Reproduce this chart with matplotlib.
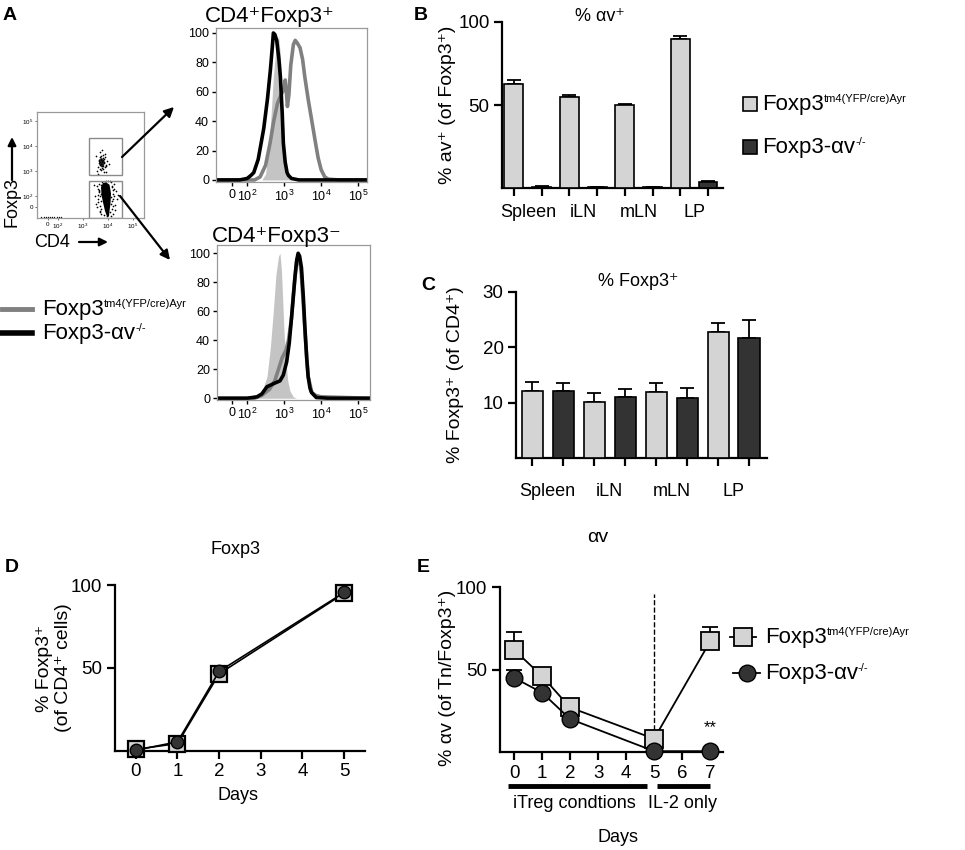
import matplotlib
matplotlib.use('Agg')
import matplotlib.pyplot as plt
from matplotlib.patches import Rectangle, Polygon
import numpy as np

plt.rcParams['font.family'] = ['Liberation Sans', 'DejaVu Sans']
plt.rcParams['mathtext.fontset'] = 'custom'
plt.rcParams['mathtext.rm'] = 'Liberation Sans'
plt.rcParams['mathtext.it'] = 'Liberation Sans:italic'
plt.rcParams['mathtext.bf'] = 'Liberation Sans:bold'
plt.rcParams['mathtext.default'] = 'regular'

# ---------------- data ----------------
# panel A: dot plot (log decades), read by eye
dot_hi_x = [3.62, 3.70, 3.78, 3.85, 3.74, 3.66, 3.80, 3.90, 3.72, 3.68, 3.76, 3.82, 3.58, 3.95, 3.70,
            3.79, 3.64, 3.87, 3.73, 3.77, 3.50, 4.05, 3.84, 3.69, 3.81, 3.75, 3.71, 3.83, 3.66, 3.78,
            3.60, 3.92, 3.74, 3.86, 3.55, 3.63, 3.89, 3.77, 3.68, 3.93]
dot_hi_y = [3.40, 3.30, 3.45, 3.35, 3.20, 3.55, 3.10, 3.25, 3.60, 3.38, 3.28, 3.50, 3.15, 3.42, 3.05,
            3.65, 3.32, 3.18, 3.48, 3.36, 3.60, 3.30, 2.95, 3.75, 3.22, 3.40, 3.44, 3.34, 3.26, 3.52,
            2.90, 2.98, 3.85, 3.70, 3.00, 3.45, 3.55, 3.12, 3.08, 3.20]
dot_lo_x = [3.55, 3.62, 3.68, 3.70, 3.66, 3.60, 3.58, 3.64, 3.69, 3.71, 4.15, 4.18, 4.20, 4.14, 4.22,
            4.16, 4.19, 4.25, 4.12, 4.17, 3.48, 3.52, 4.30, 4.35, 3.45, 4.40, 3.74, 4.08, 3.85, 3.95,
            3.67, 4.13, 3.63, 4.21, 3.90, 4.00, 3.57, 4.27, 3.73, 4.10, 3.65, 4.23, 3.61, 4.11, 3.70,
            4.18, 3.58, 4.28, 3.72, 4.15]
dot_lo_y = [2.40, 2.20, 2.00, 1.80, 1.60, 1.90, 2.30, 2.50, 1.40, 2.10, 2.40, 2.10, 1.90, 1.70, 2.30,
            1.50, 1.30, 2.00, 2.55, 1.80, 2.00, 1.70, 2.20, 1.90, 2.45, 2.05, 2.58, 2.60, 1.25, 1.22,
            1.35, 1.20, 2.15, 1.60, 2.62, 2.62, 1.55, 1.45, 1.28, 1.38, 2.25, 2.50, 1.75, 1.95, 2.45,
            2.25, 2.05, 1.65, 1.50, 2.35]
dot_core_x = [3.80, 3.92, 4.06, 4.12, 4.10, 4.06, 4.04, 3.96, 3.88, 3.80, 3.74, 3.72]
dot_core_y = [2.52, 2.55, 2.45, 2.10, 1.70, 1.40, 1.18, 1.18, 1.40, 1.75, 2.05, 2.35]
dot_hicore_x = [3.66, 3.76, 3.86, 3.84, 3.74, 3.64]
dot_hicore_y = [3.48, 3.52, 3.40, 3.20, 3.14, 3.28]
dot_base_x = [1.30, 1.42, 1.50, 1.58, 1.66, 1.74, 1.85, 1.95, 2.05, 2.12]
dot_base_y = [1.16, 1.15, 1.17, 1.15, 1.16, 1.15, 1.16, 1.15, 1.17, 1.15]
gate_hi = [3.24, 2.84, 4.56, 4.32]
gate_lo = [3.24, 1.12, 4.56, 2.60]

# panel A: histograms (x in log decades, y = % of max)
hx_ticks = [1.60, 2, 3, 4, 5]
hx_labels = ['0', '$10^2$', '$10^3$', '$10^4$', '$10^5$']

ctrl_t_x = [2.40, 2.50, 2.58, 2.65, 2.71, 2.78, 2.85, 2.90, 2.94, 2.99, 3.03, 3.08, 3.12, 3.20]
ctrl_t_y = [0, 4, 20, 45, 70, 90, 98, 85, 60, 35, 15, 5, 1, 0]
ko_t_x = [1.16, 1.8, 2.0, 2.10, 2.18, 2.30, 2.45, 2.55, 2.63, 2.68, 2.71, 2.75, 2.80, 2.86, 2.90,
          2.95, 2.98, 3.03, 3.08, 3.12, 3.20, 3.40, 3.8, 5.24]
ko_t_y = [0, 0, 1, 3, 5, 14, 35, 55, 75, 90, 100, 99, 95, 82, 70, 45, 25, 12, 5, 3, 1, 0, 0, 0]
wt_t_x = [1.16, 2.2, 2.35, 2.50, 2.62, 2.72, 2.82, 2.92, 3.00, 3.03, 3.06, 3.09, 3.13, 3.18, 3.25,
          3.30, 3.36, 3.43, 3.50, 3.56, 3.65, 3.75, 3.85, 3.92, 4.00, 4.10, 4.20, 4.5, 5.24]
wt_t_y = [0, 0, 2, 10, 25, 40, 52, 58, 62, 68, 60, 50, 58, 78, 92, 95, 93, 90, 82, 70, 55, 40, 25,
          15, 7, 2, 0.5, 0, 0]

ctrl_b_x = [2.25, 2.40, 2.54, 2.63, 2.71, 2.78, 2.85, 2.89, 2.93, 2.96, 3.00, 3.05, 3.10, 3.16, 3.25, 3.34]
ctrl_b_y = [0, 4, 15, 35, 60, 85, 98, 100, 88, 70, 45, 25, 12, 5, 1, 0]
ko_b_x = [1.19, 2.0, 2.27, 2.40, 2.54, 2.63, 2.71, 2.80, 2.89, 2.98, 3.07, 3.14, 3.20, 3.25, 3.30,
          3.34, 3.38, 3.42, 3.47, 3.52, 3.56, 3.61, 3.65, 3.70, 3.74, 3.87, 4.2, 5.32]
ko_b_y = [0, 0, 1, 3, 8, 9, 10, 11, 12, 16, 25, 38, 55, 70, 85, 95, 100, 98, 90, 70, 50, 28, 15, 7,
          4, 0.5, 0, 0]
wt_b_x = [1.19, 2.2, 2.40, 2.60, 2.75, 2.85, 2.95, 3.05, 3.12, 3.20, 3.28, 3.35, 3.40, 3.46, 3.52,
          3.58, 3.65, 3.75, 3.85, 4.0, 5.32]
wt_b_y = [0, 0, 2, 6, 12, 20, 28, 33, 40, 55, 80, 96, 98, 88, 65, 40, 15, 4, 2, 1, 0]

# panels B, C
organs = ['Spleen', 'iLN', 'mLN', 'LP']
b_wt = [62.5, 55.0, 50.0, 89.5]
b_wt_err = [2.5, 0.8, 0.7, 1.8]
b_ko = [0.8, 0.5, 0.7, 3.5]
b_ko_err = [0.3, 0.2, 0.2, 1.0]
c_wt = [12.1, 10.2, 12.0, 22.8]
c_wt_err = [1.7, 1.5, 1.6, 1.6]
c_ko = [12.1, 11.0, 10.9, 21.7]
c_ko_err = [1.4, 1.4, 1.7, 3.2]

# panel D
days_d = [0, 1, 2, 5]
d_wt = [1.0, 4.5, 46.5, 95.0]
d_ko = [0.5, 5.5, 48.0, 95.5]

# panel E
days_e = [0, 1, 2, 5, 7]
e_wt = [62, 46, 27, 8, 67]
e_wt_err = [10.5, 1.5, 1.5, 1.0, 9.0]
e_ko = [45, 36, 20, 0.5, 0.5]
e_ko_err = [5.0, 2.0, 1.5, 0.3, 0.3]

WT_LABEL = 'Foxp3'
WT_SUP = 'tm4(YFP/cre)Ayr'
KO_LABEL = 'Foxp3-\u03b1v'
KO_SUP = '-/-'
PLUS = '\u207a'
MINUS = '\u207b'

light = '#d4d4d4'
dark = '#333333'

# ---------------- figure ----------------
W, H = 965, 850
fig = plt.figure(figsize=(W / 100, H / 100), dpi=100)


def add_ax(l, t, r, b):
    return fig.add_axes([l / W, 1 - b / H, (r - l) / W, (b - t) / H])


def prism(ax, fs=13.5):
    for s in ['top', 'right']:
        ax.spines[s].set_visible(False)
    for s in ['left', 'bottom']:
        ax.spines[s].set_linewidth(1.6)
    ax.tick_params(direction='out', length=6, width=1.6, labelsize=fs, pad=3)


def flow_frame(ax):
    for s in ax.spines.values():
        s.set_color('#9a9a9a')
        s.set_linewidth(0.9)


# dot plot
axdot = add_ax(37, 112, 144, 218)
axdot.set_xlim(1.16, 5.44)
axdot.set_ylim(1.12, 5.36)
flow_frame(axdot)
axdot.add_patch(Polygon(list(zip(dot_core_x, dot_core_y)), closed=True, color='k', lw=0))
axdot.add_patch(Polygon(list(zip(dot_hicore_x, dot_hicore_y)), closed=True, color='#3a3a3a', lw=0))
axdot.scatter(dot_hi_x, dot_hi_y, s=1.5, c='k', lw=0)
axdot.scatter(dot_lo_x, dot_lo_y, s=1.5, c='k', lw=0)
axdot.scatter(dot_base_x, dot_base_y, s=1.0, c='k', lw=0)
for g in [gate_hi, gate_lo]:
    axdot.add_patch(Rectangle((g[0], g[1]), g[2] - g[0], g[3] - g[1], fill=False,
                              edgecolor='#8a8a8a', lw=1.0))
axdot.set_xticks(hx_ticks)
axdot.set_xticklabels(hx_labels)
axdot.set_yticks([1.56, 2, 3, 4, 5])
axdot.set_yticklabels(hx_labels)
axdot.tick_params(labelsize=4.5, length=1.5, width=0.6, pad=1.5, color='#555555')

# histograms
axh1 = add_ax(216, 28, 367, 182)
axh1.fill_between(ctrl_t_x, ctrl_t_y, color='#c4c4c4', lw=0)
axh1.plot(wt_t_x, wt_t_y, color='#808080', lw=2.6)
axh1.plot(ko_t_x, ko_t_y, color='k', lw=2.6)
axh1.set_xlim(1.16, 5.24)
axh1.set_ylim(-1.4, 103.4)

axh2 = add_ax(217, 245, 370, 400)
axh2.fill_between(ctrl_b_x, ctrl_b_y, color='#c4c4c4', lw=0)
axh2.plot(wt_b_x, wt_b_y, color='#808080', lw=2.6)
axh2.plot(ko_b_x, ko_b_y, color='k', lw=2.6)
axh2.set_xlim(1.19, 5.32)
axh2.set_ylim(-1.2, 105.7)

for ax in [axh1, axh2]:
    flow_frame(ax)
    ax.set_xticks(hx_ticks)
    ax.set_xticklabels(hx_labels)
    ax.set_yticks([0, 20, 40, 60, 80, 100])
    ax.tick_params(labelsize=9, length=3, width=1.0, pad=2)

# panel B
xw = np.arange(4) * 2
xk = xw + 1
axB = add_ax(502, 22, 723, 188)
axB.bar(xw, b_wt, width=0.68, color=light, edgecolor='k', lw=1.2, zorder=3)
axB.bar(xk, b_ko, width=0.68, color=dark, edgecolor='k', lw=1.2, zorder=3)
axB.errorbar(xw, b_wt, yerr=[np.zeros(4), b_wt_err], fmt='none', ecolor='k',
             elinewidth=1.3, capsize=5, capthick=1.3, zorder=2)
axB.errorbar(xk, b_ko, yerr=[np.zeros(4), b_ko_err], fmt='none', ecolor='k',
             elinewidth=1.3, capsize=5, capthick=1.3, zorder=2)
axB.set_xlim(-0.43, 7.54)
axB.set_ylim(0, 100)
axB.set_yticks([50, 100])
prism(axB)
axB.set_xticks(np.arange(8))
axB.set_xticklabels([])
for i, o in enumerate(organs):
    axB.text(2 * i + 0.5, -0.15, o, transform=axB.get_xaxis_transform(),
             ha='center', va='center', fontsize=13)

# panel C
axC = add_ax(516, 292, 767, 458)
axC.bar(xw, c_wt, width=0.68, color=light, edgecolor='k', lw=1.2, zorder=3)
axC.bar(xk, c_ko, width=0.68, color=dark, edgecolor='k', lw=1.2, zorder=3)
axC.errorbar(xw, c_wt, yerr=[np.zeros(4), c_wt_err], fmt='none', ecolor='k',
             elinewidth=1.3, capsize=5, capthick=1.3, zorder=2)
axC.errorbar(xk, c_ko, yerr=[np.zeros(4), c_ko_err], fmt='none', ecolor='k',
             elinewidth=1.3, capsize=5, capthick=1.3, zorder=2)
axC.set_xlim(-0.52, 7.58)
axC.set_ylim(0, 30)
axC.set_yticks([10, 20, 30])
prism(axC)
axC.set_xticks(np.arange(8))
axC.set_xticklabels([])
for i, o in enumerate(organs):
    axC.text(2 * i + 0.5, -0.2, o, transform=axC.get_xaxis_transform(),
             ha='center', va='center', fontsize=13)

# panel D
axD = add_ax(115, 585, 365, 751)
axD.plot(days_d, d_wt, color='k', lw=1.2, marker='s', ms=11, mfc=light, mec='k', mew=1.6,
         zorder=3, clip_on=False)
axD.plot(days_d, d_ko, color='k', lw=1.2, marker='o', ms=9, mfc=dark, mec='k', mew=1.0,
         zorder=4, clip_on=False)
axD.set_xlim(-0.5, 5.5)
axD.set_ylim(0, 100)
axD.set_yticks([50, 100])
axD.set_xticks(range(6))
prism(axD)

# panel E
axE = add_ax(500, 587, 723, 752)
axE.errorbar(days_e, e_wt, yerr=[np.zeros(5), e_wt_err], fmt='none', ecolor='k',
             elinewidth=1.3, capsize=6, capthick=1.3, zorder=2)
axE.errorbar(days_e, e_ko, yerr=[np.zeros(5), e_ko_err], fmt='none', ecolor='k',
             elinewidth=1.3, capsize=6, capthick=1.3, zorder=2)
axE.plot(days_e, e_wt, color='k', lw=1.3, marker='s', ms=13, mfc=light, mec='k', mew=1.3,
         zorder=3, clip_on=False)
axE.plot(days_e, e_ko, color='k', lw=1.3, marker='o', ms=12, mfc=dark, mec='k', mew=1.0,
         zorder=4, clip_on=False)
axE.axvline(5, ymin=0, ymax=0.96, ls='--', color='k', lw=1.0, zorder=1)
axE.text(days_e[-1], 10, '**', ha='center', va='bottom', fontsize=12)
axE.set_xlim(-0.5, 7.46)
axE.set_ylim(0, 100)
axE.set_yticks([50, 100])
axE.set_xticks(range(8))
prism(axE)

# ---------------- overlay: labels, arrows, legends (pixel coords) ----------------
ov = fig.add_axes([0, 0, 1, 1], facecolor='none')
ov.set_xlim(0, W)
ov.set_ylim(H, 0)
ov.axis('off')


def label_sup(x, y, main, sup, fs=16, sfs=8):
    t = ov.text(x, y, main, fontsize=fs, ha='left', va='center')
    ov.annotate(sup, xy=(1.0, 0.98), xycoords=t, ha='left', va='top', fontsize=sfs)


for letter, x, y in [('A', 10, 15), ('B', 421, 15), ('C', 428, 285), ('D', 12, 568), ('E', 423, 568)]:
    ov.text(x, y, letter, fontsize=14, fontweight='bold', ha='center', va='center')

ov.text(270, 16, 'CD4' + PLUS + 'Foxp3' + PLUS, fontsize=16, ha='center', va='center')
ov.text(277, 236, 'CD4' + PLUS + 'Foxp3' + MINUS, fontsize=16, ha='center', va='center')
ov.text(12, 202, 'Foxp3', fontsize=13, rotation=90, ha='center', va='center')
ov.annotate('', xy=(12, 137), xytext=(12, 180),
            arrowprops=dict(arrowstyle='-|>', color='k', lw=1.6, mutation_scale=12, shrinkA=0, shrinkB=0))
ov.text(52, 242, 'CD4', fontsize=13, ha='center', va='center')
ov.annotate('', xy=(108, 242), xytext=(79, 242),
            arrowprops=dict(arrowstyle='-|>', color='k', lw=1.6, mutation_scale=12, shrinkA=0, shrinkB=0))
ov.annotate('', xy=(174, 107), xytext=(122, 157),
            arrowprops=dict(arrowstyle='-|>', color='k', lw=1.6, mutation_scale=14, shrinkA=0, shrinkB=0))
ov.annotate('', xy=(170, 260), xytext=(120, 196),
            arrowprops=dict(arrowstyle='-|>', color='k', lw=1.6, mutation_scale=14, shrinkA=0, shrinkB=0))

# legend A
ov.plot([2, 32], [309, 309], color='#808080', lw=3.5)
label_sup(42, 309, WT_LABEL, WT_SUP)
ov.plot([2, 32], [333, 333], color='k', lw=4)
label_sup(42, 333, KO_LABEL, KO_SUP)

# titles / axis labels B-E
ov.text(600, 16, '% \u03b1v' + PLUS, fontsize=13, ha='center', va='center')
ov.text(448, 105, '% av' + PLUS + ' (of Foxp3' + PLUS + ')', fontsize=14, rotation=90,
        ha='center', va='center')
ov.add_patch(Rectangle((743, 97), 14, 14, facecolor=light, edgecolor='k', lw=1.2))
label_sup(762, 104, WT_LABEL, WT_SUP)
ov.add_patch(Rectangle((743, 140), 14, 14, facecolor=dark, edgecolor='k', lw=1.2))
label_sup(762, 147, KO_LABEL, KO_SUP)

ov.text(638, 282, '% Foxp3' + PLUS, fontsize=13, ha='center', va='center')
ov.text(455, 375, '% Foxp3' + PLUS + ' (of CD4' + PLUS + ')', fontsize=14, rotation=90,
        ha='center', va='center')

ov.text(235, 550, 'Foxp3', fontsize=13, ha='center', va='center')
ov.text(54, 668, '% Foxp3' + PLUS + '\n(of CD4' + PLUS + ' cells)', fontsize=14, rotation=90,
        ha='center', va='center', linespacing=1.1)
ov.text(238, 795, 'Days', fontsize=13, ha='center', va='center')

ov.text(598, 538, '\u03b1v', fontsize=14, ha='center', va='center')
ov.text(447, 678, '% \u03b1v (of Tn/Foxp3' + PLUS + ')', fontsize=14, rotation=90,
        ha='center', va='center')
ov.plot([508, 647], [786, 786], color='k', lw=3.5, solid_capstyle='butt')
ov.plot([657, 710], [786, 786], color='k', lw=3.5, solid_capstyle='butt')
ov.text(574, 804, 'iTreg condtions', fontsize=13, ha='center', va='center')
ov.text(682, 804, 'IL-2 only', fontsize=13, ha='center', va='center')
ov.text(618, 838, 'Days', fontsize=13, ha='center', va='center')

ov.plot([730, 756], [637, 637], color='k', lw=1.3)
ov.plot([743], [637], marker='s', ms=13, mfc=light, mec='k', mew=1.3)
label_sup(765, 637, WT_LABEL, WT_SUP)
ov.plot([733, 760], [673, 673], color='k', lw=1.3)
ov.plot([747], [673], marker='o', ms=12, mfc=dark, mec='k', mew=1.0)
label_sup(765, 673, KO_LABEL, KO_SUP)

fig.savefig('out.png', dpi=100)
